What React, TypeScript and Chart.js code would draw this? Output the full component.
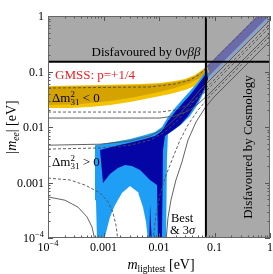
import React, { useEffect, useRef } from 'react';
import { Chart, registerables } from 'chart.js';
Chart.register(...registerables);

// ---------- axes ----------
const X_MIN = 1e-4;
const X_MAX = 1;
const Y_MIN = 1e-4;
const Y_MAX = 1;
const xTickValues = [1e-4, 1e-3, 1e-2, 1e-1, 1];
const xTickLabels = ['10^-4', '0.001', '0.01', '0.1', '1'];
const yTickValues = [1e-4, 1e-3, 1e-2, 1e-1, 1];
const yTickLabels = ['10^-4', '0.001', '0.01', '0.1', '1'];
const minorMultipliers = [2, 3, 4, 5, 6, 7, 8, 9];

// ---------- bounds ----------
const bound0vbb = 0.15; // |m_ee| upper bound
const boundCosmo = 0.07; // m_lightest upper bound

type P = [number, number];

// ---------- regions (m_lightest, |m_ee|) in eV ----------
const qdBand: P[] = [[0.0445, 0.0764], [0.634, 1.087], [1.043, 1.087], [0.0733, 0.0764]];
const qdEdge: P[] = [[0.0733, 0.0764], [1.043, 1.087], [1.23, 1.087], [0.0865, 0.0764]];

const ihOuter: P[] = [
  [1e-4, 0.0548], [8.65e-4, 0.0571], [4.55e-3, 0.0595], [0.0104, 0.0621], [0.0194, 0.0674],
  [0.0294, 0.0733], [0.0445, 0.0865], [0.0595, 0.106], [0.0733, 0.125], [0.0796, 0.098],
  [0.062, 0.0703], [0.0445, 0.0548], [0.0294, 0.0464], [0.0158, 0.0393], [6.88e-3, 0.0333],
  [3e-3, 0.0282], [1.31e-3, 0.0249], [5.71e-4, 0.0229], [2.49e-4, 0.022], [1e-4, 0.022],
];
const ihCore: P[] = [
  [1e-4, 0.0526], [8.65e-4, 0.0548], [4.55e-3, 0.0571], [0.0104, 0.0595], [0.0194, 0.0647],
  [0.0294, 0.0703], [0.0445, 0.083], [0.0595, 0.102], [0.0733, 0.12], [0.0764, 0.102],
  [0.0548, 0.0764], [0.0362, 0.0621], [0.0194, 0.0504], [8.47e-3, 0.041], [3e-3, 0.0333],
  [1.31e-3, 0.0294], [3.77e-4, 0.026], [1e-4, 0.0249],
];
const nhOuter: P[] = [
  [7.03e-4, 0.0047], [1.61e-3, 0.0054], [3e-3, 0.0061], [5.6e-3, 0.0072], [8.47e-3, 0.0081],
  [0.0113, 0.01], [0.0145, 0.0151], [0.0194, 0.022], [0.0259, 0.0306], [0.0362, 0.0445],
  [0.0484, 0.0621], [0.062, 0.0865], [0.0733, 0.111], [0.0796, 0.0865], [0.0674, 0.0464],
  [0.0505, 0.026], [0.0362, 0.0158], [0.0259, 0.0113], [0.0186, 0.0088], [0.0145, 0.0075],
  [0.0139, 0.00254], [0.0134, 9e-5], [7.64e-4, 9e-5], [7.32e-4, 0.00048], [7.03e-4, 0.00168],
];
const nhCore: P[] = [
  [8.65e-4, 0.00385], [1.61e-3, 0.00455], [3e-3, 0.0052], [5.6e-3, 0.0061], [8.47e-3, 0.0069],
  [0.0113, 0.0085], [0.0145, 0.0128], [0.0194, 0.0186], [0.0259, 0.026], [0.0362, 0.0377],
  [0.0484, 0.0548], [0.062, 0.0764], [0.0733, 0.098], [0.0764, 0.0733], [0.062, 0.0427],
  [0.0464, 0.026], [0.0333, 0.0158], [0.0239, 0.0109], [0.0171, 0.0085], [0.0128, 0.0069],
  [0.0118, 0.00385], [0.0113, 9e-5], [9.6e-3, 9e-5], [9.2e-3, 0.0009], [6.88e-3, 0.00111],
  [5.6e-3, 0.00136], [4.55e-3, 0.00168], [3.26e-3, 0.00198], [2.44e-3, 0.00207], [1.82e-3, 0.00182],
  [1.31e-3, 0.00142], [9.8e-4, 0.00098],
];
const nhHole: P[] = [
  [1.02e-3, 9e-5], [1.31e-3, 0.000239], [1.61e-3, 0.00039], [2.15e-3, 0.00065], [3e-3, 0.000865],
  [4.19e-3, 0.00067], [5.15e-3, 0.00036], [5.83e-3, 0.000194], [6.34e-3, 9e-5],
];
const nhSpike: P[] = [[6.9e-3, 0.0004], [7.4e-3, 9e-5], [6.7e-3, 9e-5]];

// ---------- boundary curves ----------
const ihUpperBest: P[] = [[1e-4, 0.0504], [6.88e-3, 0.0526], [0.0194, 0.0595], [0.0362, 0.0703], [0.0548, 0.0902], [0.083, 0.1365], [1, 1.64]];
const ihLowerBest: P[] = [[1e-4, 0.0186], [0.0104, 0.0186], [0.0194, 0.0202], [0.0333, 0.0249], [0.0505, 0.0333], [0.0764, 0.0484], [1, 0.634]];
const ihLower3s: P[] = [[1e-4, 0.0145], [0.0104, 0.0145], [0.0194, 0.0158], [0.0333, 0.0194], [0.0505, 0.026], [0.0764, 0.0377], [1, 0.494]];
const nhUpper3s: P[] = [[1e-4, 0.0047], [8.65e-4, 0.0049], [3e-3, 0.0056], [6.88e-3, 0.0069], [0.0128, 0.0096], [0.022, 0.0158], [0.0362, 0.0282], [0.0548, 0.0464], [0.083, 0.0703], [1, 0.847]];
const nhUpperBest: P[] = [[1e-4, 0.004], [8.65e-4, 0.00419], [3e-3, 0.0047], [6.88e-3, 0.0058], [0.0128, 0.0081], [0.022, 0.0134], [0.0362, 0.0239], [0.0548, 0.0393], [0.0902, 0.0647], [1, 0.718]];
const nhLowerBestL: P[] = [[1e-4, 0.0012], [2.49e-4, 0.00111], [4.64e-4, 0.0009], [8.65e-4, 0.00065], [1.21e-3, 0.00045], [1.48e-3, 0.00029], [1.68e-3, 0.00017], [1.82e-3, 9e-5]];
const nhLowerBestR: P[] = [[7.8e-3, 9e-5], [8.83e-3, 0.00026], [0.0104, 0.0006], [0.0128, 0.0012], [0.0171, 0.00254], [0.0239, 0.0058], [0.0333, 0.0109], [0.0505, 0.0202], [0.083, 0.0362], [1, 0.436]];
const nhLower3sL: P[] = [[1e-4, 0.00055], [2.02e-4, 0.00048], [3.47e-4, 0.00036], [5.04e-4, 0.00024], [6.21e-4, 0.000158], [7.03e-4, 9e-5]];
const nhLower3sR: P[] = [[0.0134, 9e-5], [0.0145, 0.000229], [0.0164, 0.00048], [0.0202, 0.00111], [0.0259, 0.00234], [0.0333, 0.0058], [0.0464, 0.0123], [0.0674, 0.022], [0.098, 0.0347], [1, 0.355]];

// ---------- style ----------
const FONT = "'Liberation Serif', 'DejaVu Serif', serif";
const C = {
  gray: '#a9a9a9', purple: '#6b6ba9', bandEdge: '#8aa3c8',
  yellow: '#f3c300', gold: '#d5a300', lightBlue: '#1e9ef5', darkBlue: '#0505a5',
  line: '#505050', red: '#ee1c24',
};

const toXY = (a: P[]) => a.map(([x, y]) => ({ x, y }));
const area = (data: P[], color: string) => ({
  data: toXY(data), showLine: true, fill: 'shape', backgroundColor: color,
  borderColor: 'rgba(0,0,0,0)', borderWidth: 0, pointRadius: 0, tension: 0,
});
const curve = (data: P[], color: string, width: number, dash: number[] = []) => ({
  data: toXY(data), showLine: true, fill: false, borderColor: color, borderWidth: width,
  borderDash: dash, pointRadius: 0, tension: 0,
});

type Run = { t: string; size: number; dy?: number; italic?: boolean; noAdvance?: boolean };
function drawRuns(ctx: CanvasRenderingContext2D, runs: Run[], x: number, y: number, align: 'left' | 'center' | 'right') {
  const fnt = (r: Run) => `${r.italic ? 'italic ' : ''}${r.size}px ${FONT}`;
  const widths = runs.map((r) => { ctx.font = fnt(r); return r.noAdvance ? 0 : ctx.measureText(r.t).width; });
  const total = widths.reduce((a, b) => a + b, 0);
  let cx = align === 'left' ? x : align === 'center' ? x - total / 2 : x - total;
  ctx.textAlign = 'left';
  ctx.textBaseline = 'alphabetic';
  runs.forEach((r, i) => { ctx.font = fnt(r); ctx.fillText(r.t, cx, y + (r.dy || 0)); cx += widths[i]; });
}
function tickRuns(label: string, size: number): Run[] {
  if (label.includes('^')) {
    const [b, e] = label.split('^');
    return [{ t: b, size }, { t: e.replace('-', '\u2212'), size: size * 0.7, dy: -5 }];
  }
  return [{ t: label, size }];
}

const overlay = {
  id: 'overlay',
  afterDatasetsDraw(chart: any) {
    const ctx: CanvasRenderingContext2D = chart.ctx;
    const xs = chart.scales.x, ys = chart.scales.y;
    const { left, right, top, bottom } = chart.chartArea;
    ctx.save();
    // ticks
    ctx.strokeStyle = '#555';
    ctx.lineWidth = 1;
    ctx.beginPath();
    xTickValues.forEach((d) => {
      [1, ...minorMultipliers].forEach((k) => {
        const v = d * k;
        if (v > X_MAX * 1.0001) return;
        const len = k === 1 ? 5 : 2.5;
        const px = Math.round(xs.getPixelForValue(v)) + 0.5;
        ctx.moveTo(px, bottom); ctx.lineTo(px, bottom - len);
        ctx.moveTo(px, top); ctx.lineTo(px, top + len);
      });
    });
    yTickValues.forEach((d) => {
      [1, ...minorMultipliers].forEach((k) => {
        const v = d * k;
        if (v > Y_MAX * 1.0001) return;
        const len = k === 1 ? 5 : 2.5;
        const py = Math.round(ys.getPixelForValue(v)) + 0.5;
        ctx.moveTo(left, py); ctx.lineTo(left + len, py);
        ctx.moveTo(right, py); ctx.lineTo(right - len, py);
      });
    });
    ctx.stroke();
    // frame
    ctx.strokeStyle = '#666';
    ctx.strokeRect(left + 0.5, top + 0.5, right - left - 1, bottom - top - 1);

    ctx.fillStyle = '#000';
    // tick labels
    xTickValues.forEach((v, i) => {
      drawRuns(ctx, tickRuns(xTickLabels[i], 12), xs.getPixelForValue(v), bottom + 13, 'center');
    });
    yTickValues.forEach((v, i) => {
      drawRuns(ctx, tickRuns(yTickLabels[i], 12), left - 4, ys.getPixelForValue(v) + 4, 'right');
    });
    // axis titles
    drawRuns(ctx, [
      { t: 'm', size: 14, italic: true }, { t: 'lightest', size: 9.5, dy: 3 }, { t: ' [eV]', size: 14 },
    ], (left + right) / 2 + 2, 269, 'center');
    ctx.save();
    ctx.translate(11, (top + bottom) / 2);
    ctx.rotate(-Math.PI / 2);
    drawRuns(ctx, [
      { t: '|', size: 14 }, { t: 'm', size: 14, italic: true }, { t: 'ee', size: 9.5, dy: 3, italic: true },
      { t: '| [eV]', size: 14 },
    ], 0, 5, 'center');
    ctx.restore();

    // annotations
    drawRuns(ctx, [{ t: 'Disfavoured by 0', size: 13 }, { t: '\u03bd\u03b2\u03b2', size: 13, italic: true }], 146, 56, 'center');
    ctx.fillStyle = C.red;
    drawRuns(ctx, [{ t: 'GMSS: p=+1/4', size: 13 }], 55, 79, 'left');
    ctx.fillStyle = '#000';
    const dm = (sign: string): Run[] => [
      { t: '\u0394m', size: 13 }, { t: '2', size: 9, dy: -5, noAdvance: true }, { t: '31', size: 9, dy: 3 },
      { t: ` ${sign} 0`, size: 13 },
    ];
    drawRuns(ctx, dm('<'), 52, 102, 'left');
    drawRuns(ctx, dm('>'), 52, 166, 'left');
    drawRuns(ctx, [{ t: 'Best', size: 12.5 }], 171, 222, 'left');
    drawRuns(ctx, [{ t: '& 3', size: 12.5 }, { t: '\u03c3', size: 12.5, italic: true }], 170, 234, 'left');
    ctx.save();
    ctx.translate(247, 147);
    ctx.rotate(-Math.PI / 2);
    drawRuns(ctx, [{ t: 'Disfavoured by Cosmology', size: 13 }], 0, 4.5, 'center');
    ctx.restore();
    ctx.restore();
  },
};

export default function App() {
  const ref = useRef<HTMLCanvasElement>(null);
  useEffect(() => {
    const grayRegion: P[] = [
      [X_MIN, bound0vbb], [boundCosmo, bound0vbb], [boundCosmo, Y_MIN * 0.9], [X_MAX * 1.1, Y_MIN * 0.9],
      [X_MAX * 1.1, Y_MAX * 1.1], [X_MIN, Y_MAX * 1.1],
    ];
    const layers: any[] = [
      area(grayRegion, C.gray),
      area(qdEdge, C.bandEdge),
      area(qdBand, C.purple),
      area(ihOuter, C.yellow),
      area(ihCore, C.gold),
      area(nhOuter, C.lightBlue),
      area(nhCore, C.darkBlue),
      area(nhHole, '#ffffff'),
      area(nhSpike, C.darkBlue),
      curve(ihUpperBest, C.line, 0.9, [3, 2]),
      curve(ihLowerBest, C.line, 0.9, [3, 2]),
      curve(ihLower3s, C.line, 0.9),
      curve(nhUpper3s, C.line, 0.9),
      curve(nhUpperBest, C.line, 0.9, [3, 2]),
      curve(nhLowerBestL, C.line, 0.9, [3, 2]),
      curve(nhLowerBestR, C.line, 0.9, [3, 2]),
      curve(nhLower3sL, C.line, 0.9),
      curve(nhLower3sR, C.line, 0.9),
      curve([[X_MIN, bound0vbb], [X_MAX, bound0vbb]], '#000', 2),
      curve([[boundCosmo, Y_MIN], [boundCosmo, Y_MAX]], '#000', 2),
    ];
    const n = layers.length;
    layers.forEach((d, i) => { d.order = n - i; });
    const chart = new Chart(ref.current as HTMLCanvasElement, {
      type: 'scatter',
      data: { datasets: layers },
      options: {
        responsive: false,
        devicePixelRatio: 1,
        animation: false,
        events: [],
        layout: { padding: { top: 16, right: 3, left: 0, bottom: 0 } },
        plugins: { legend: { display: false }, tooltip: { enabled: false } },
        scales: {
          x: {
            type: 'logarithmic', min: X_MIN, max: X_MAX,
            grid: { display: false }, border: { display: false }, ticks: { display: false },
            afterFit: (s: any) => { s.height = 36; },
          },
          y: {
            type: 'logarithmic', min: Y_MIN, max: Y_MAX,
            grid: { display: false }, border: { display: false }, ticks: { display: false },
            afterFit: (s: any) => { s.width = 48; },
          },
        },
      } as any,
      plugins: [overlay],
    });
    return () => chart.destroy();
  }, []);
  return (
    <div style={{ position: 'fixed', left: 0, top: 0, width: 273, height: 274, background: '#fff' }}>
      <canvas ref={ref} width={273} height={274} style={{ display: 'block', width: 273, height: 274 }} />
    </div>
  );
}
